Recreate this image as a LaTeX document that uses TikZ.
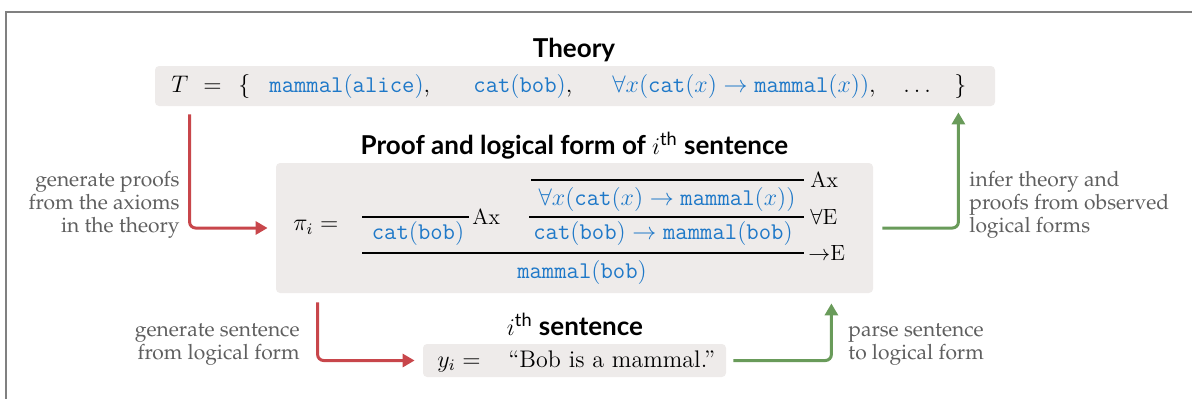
\documentclass[tikz,border=0pt]{standalone}
\usepackage{amsmath,amssymb}
\usepackage{fontspec}
\usepackage{tikz}
\usetikzlibrary{arrows.meta,positioning,calc}
\newfontfamily\headfont{Lato}
\newcommand{\tm}[1]{\texttt{#1}}
\newcommand{\ith}{$i^{\text{\headfont\mdseries th}}$}
\newcommand{\lblfont}{\usefont{OT1}{ppl}{m}{n}\fontsize{10.5}{11.4}\selectfont}
\definecolor{boxgray}{RGB}{238,235,234}
\definecolor{fblue}{RGB}{30,120,200}
\definecolor{arred}{RGB}{200,70,75}
\definecolor{argreen}{RGB}{105,155,90}
\definecolor{lblgray}{RGB}{95,95,95}
\definecolor{framegray}{RGB}{128,128,128}

\begin{document}
\begin{tikzpicture}[x=0.5pt,y=0.5pt,every node/.style={font=\fontsize{12}{14}\selectfont,inner sep=0pt},
  panel/.style={fill=boxgray,rounded corners=2pt},
  title/.style={anchor=base,font=\headfont\bfseries\fontsize{13}{15}\selectfont},
  item/.style={anchor=base west},
  fml/.style={anchor=base,text=fblue},
  rule/.style={line width=0.6pt},
  rlab/.style={anchor=west,font=\fontsize{11}{13}\selectfont},
  side/.style={font=\lblfont,text=lblgray},
  flow/.style={line width=1.5pt,rounded corners=3pt,-{Triangle[width=6.5pt,length=6pt]}},
  redarr/.style={flow,draw=arred},
  greenarr/.style={flow,draw=argreen}]
\useasboundingbox (0,0) rectangle (1192,398);
\draw[framegray,line width=0.75pt] (6,-10) -- (6,386) -- (1210,386);
% theory
\node[panel,minimum width=420pt,minimum height=20pt] (theory) at (575,312) {};
\node[title] (theorytitle) at (574,341) {Theory};
\node[item] (tT) at (171,306) {$T$}; \node[item] (teq) at (203,306) {$=$};
\node[item] (topen) at (238,306) {$\{$};
\node[item] (tax1) at (269,306) {\textcolor{fblue}{$\tm{mammal}(\tm{alice})$},};
\node[item] (tax2) at (473,306) {\textcolor{fblue}{$\tm{cat}(\tm{bob})$},};
\node[item] (tax3) at (612,306) {\textcolor{fblue}{$\forall x(\tm{cat}(x)\to\tm{mammal}(x))$},};
\node[item] (tdots) at (903,306) {$\dots$}; \node[item] (tclose) at (954,306) {$\}$};
% proof of the i-th sentence
\node[panel,minimum width=298.5pt,minimum height=65pt] (proof) at (574.5,170) {};
\node[title] (prooftitle) at (574.5,244) {Proof and logical form of \ith{} sentence};
\node[item] (pi) at (293,167.5) {$\pi_i =$};
\draw[rule] (531,218) -- (804,218); \node[rlab] (axb) at (810,218) {Ax};
\node[fml] (allx) at (667,193) {$\forall x(\tm{cat}(x)\to\tm{mammal}(x))$};
\draw[rule] (529,181) -- (804,181); \node[rlab] (alle) at (810,181) {$\forall$E};
\draw[rule] (362,181) -- (469,181); \node[rlab] (axa) at (472,181) {Ax};
\node[fml] (catbob) at (418,158.5) {$\tm{cat}(\tm{bob})$};
\node[fml] (impl) at (663,158.5) {$\tm{cat}(\tm{bob})\to\tm{mammal}(\tm{bob})$};
\draw[rule] (362,145) -- (804,145); \node[rlab] (impe) at (808,145) {$\to$E};
\node[fml] (mammalbob) at (582,120) {$\tm{mammal}(\tm{bob})$};
% sentence
\node[panel,minimum width=151.5pt,minimum height=16.5pt] (sent) at (574.5,37.5) {};
\node[title] (senttitle) at (575,63) {\ith{} sentence};
\node[item] (yi) at (437,31) {$y_i =$};
\node[item] (bob) at (508,31) {“Bob is a mammal.”};
% arrows
\draw[redarr,shorten <=4pt,shorten >=4pt] ([xshift=17.5pt]theory.south west) |- (proof.west);
\draw[greenarr,shorten <=4.5pt,shorten >=3pt] (proof.east) -| ([xshift=-18.5pt]theory.south east);
\draw[redarr,shorten <=4.5pt,shorten >=4pt] ([xshift=21pt]proof.south west) |- (sent.west);
\draw[greenarr,shorten <=3.5pt,shorten >=5pt] (sent.east) -| ([xshift=-21pt]proof.south east);
\node[side,anchor=east,align=right] (genproof) at (180,193) {generate proofs\\from the axioms\\in the theory};
\node[side,anchor=west,align=left] (infer) at (969,193) {infer theory and\\proofs from observed\\logical forms};
\node[side,anchor=east,align=right] (gensent) at (300,53.5) {generate sentence\\from logical form};
\node[side,anchor=west,align=left] (parse) at (848,53.5) {parse sentence\\to logical form};
\end{tikzpicture}
\end{document}
